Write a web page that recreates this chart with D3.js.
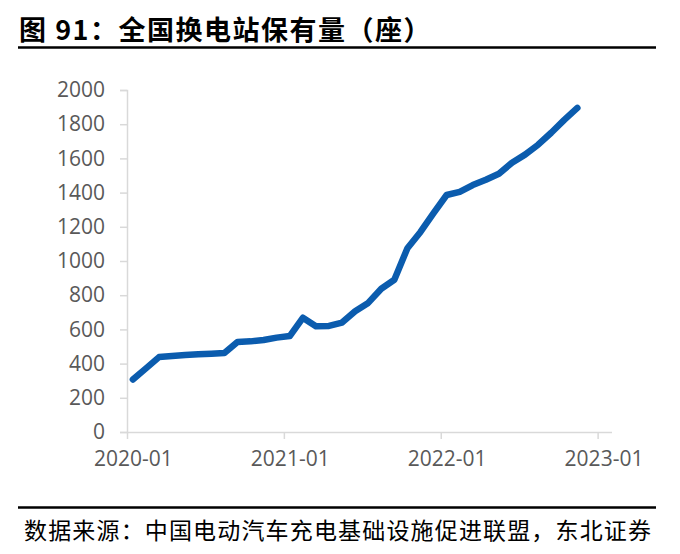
<!DOCTYPE html>
<html>
<head>
<meta charset="utf-8">
<script src="https://cdn.jsdelivr.net/npm/d3@7"></script>
<style>
  html, body { margin: 0; padding: 0; background: #fff; }
  svg { display: block; }
</style>
</head>
<body>
<svg id="chart" width="680" height="554"></svg>
<script>
// ---- data ----
const months = [
  "2020-01","2020-02","2020-03","2020-04","2020-05","2020-06","2020-07","2020-08","2020-09","2020-10","2020-11","2020-12",
  "2021-01","2021-02","2021-03","2021-04","2021-05","2021-06","2021-07","2021-08","2021-09","2021-10","2021-11","2021-12",
  "2022-01","2022-02","2022-03","2022-04","2022-05","2022-06","2022-07","2022-08","2022-09","2022-10","2022-11"
];
const stations = [
  307, 372, 438, 444, 450, 454, 458, 462, 526, 530, 538, 552,
  561, 668, 618, 620, 640, 706, 755, 838, 890, 1075, 1170, 1280,
  1386, 1404, 1444, 1475, 1510, 1575, 1622, 1680, 1750, 1825, 1895
];
const yTicks = [0, 200, 400, 600, 800, 1000, 1200, 1400, 1600, 1800, 2000];
const xTickLabels = ["2020-01", "2021-01", "2022-01", "2023-01"];

const titleText = "图 91：全国换电站保有量（座）";
const sourceText = "数据来源：中国电动汽车充电基础设施促进联盟，东北证券";

// ---- layout ----
const svg = d3.select("#chart");
const axisColor = "#d9d9d9";
const textColor = "#595959";
const lineColor = "#0b5cae";
const cjk = "'Noto Sans CJK SC', 'Noto Sans', sans-serif";
const latin = "'Open Sans', 'Noto Sans', sans-serif";

// month index scale (0 = 2020-01 boundary)
const monthIndex = m => { const [y, mo] = m.split("-").map(Number); return (y - 2020) * 12 + (mo - 1); };
const x = d3.scaleLinear().domain([0, 37.1]).range([127, 612]);
const y = d3.scaleLinear().domain([0, 2000]).range([432, 90]);
const pointOffset = 0.45; // data sits inside its month slot

// title
svg.append("text")
  .attr("x", 19).attr("y", 40)
  .attr("font-family", cjk).attr("font-weight", "bold").attr("font-size", 27)
  .attr("letter-spacing", 1.5)
  .attr("fill", "#000")
  .text(titleText);
svg.append("line").attr("x1", 18).attr("x2", 656).attr("y1", 47.5).attr("y2", 47.5)
  .attr("stroke", "#000").attr("stroke-width", 2.5);

// y axis
const yAxis = svg.append("g").attr("transform", `translate(${x(0)},0)`)
  .call(d3.axisLeft(y).tickValues(yTicks).tickSize(7).tickPadding(15).tickFormat(d3.format("d")));
yAxis.select(".domain").attr("stroke", axisColor).attr("stroke-width", 1.5);
yAxis.selectAll(".tick line").attr("stroke", axisColor).attr("stroke-width", 1.5);
yAxis.selectAll(".tick text").attr("fill", textColor).attr("font-family", latin).attr("font-size", 21);

// x axis
const xTickVals = xTickLabels.map(monthIndex);
const xAxis = svg.append("g").attr("transform", `translate(0,${y(0)})`)
  .call(d3.axisBottom(x).tickValues(xTickVals).tickSize(7).tickPadding(12)
    .tickFormat((d, i) => xTickLabels[i]));
xAxis.select(".domain").attr("stroke", axisColor).attr("stroke-width", 1.5)
  .attr("d", `M${x(0)},0.5H${x(37.1)}`);
xAxis.selectAll(".tick line").attr("stroke", axisColor).attr("stroke-width", 1.5);
xAxis.selectAll(".tick text").attr("fill", textColor).attr("font-family", latin).attr("font-size", 21)
  .attr("dx", x(pointOffset) - x(0));

// line
const line = d3.line()
  .x((d, i) => x(monthIndex(months[i]) + pointOffset))
  .y(d => y(d));
svg.append("path")
  .datum(stations)
  .attr("d", line)
  .attr("fill", "none")
  .attr("stroke", lineColor)
  .attr("stroke-width", 6.5)
  .attr("stroke-linejoin", "round")
  .attr("stroke-linecap", "round");

// source
svg.append("line").attr("x1", 18).attr("x2", 656).attr("y1", 507.5).attr("y2", 507.5)
  .attr("stroke", "#000").attr("stroke-width", 2.5);
svg.append("text")
  .attr("x", 24).attr("y", 539)
  .attr("font-family", cjk).attr("font-size", 23)
  .attr("fill", "#000")
  .attr("textLength", 627).attr("lengthAdjust", "spacing")
  .text(sourceText);
</script>
</body>
</html>
